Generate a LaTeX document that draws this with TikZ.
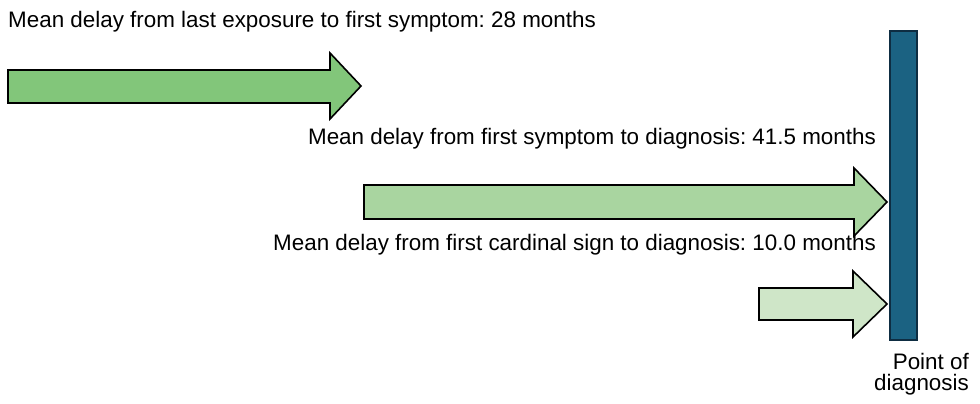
\documentclass[tikz,border=0pt]{standalone}
\usepackage{fontspec}
\setmainfont{Liberation Sans}
\frenchspacing
\begin{document}
\begin{tikzpicture}[x=1pt,y=-1pt,
  lbl/.style={font=\fontsize{22.4}{21}\selectfont, inner sep=0pt},
  arr/.style={draw=black, line width=1.6pt, line join=miter}]
\definecolor{gA}{RGB}{130,198,122}
\definecolor{gB}{RGB}{169,213,160}
\definecolor{gC}{RGB}{207,230,200}
\definecolor{barC}{RGB}{27,98,130}
\definecolor{barD}{RGB}{14,45,66}
\useasboundingbox (0,0) rectangle (980,404);
% bar
\node[draw=barD, line width=1.6pt, fill=barC, minimum width=27pt, minimum height=309pt, inner sep=0pt, anchor=north west] (bar) at (889,30) {};
% arrows
\fill[gA, arr] (8,70) -- (330,70) -- (330,53) -- (361,86) -- (330,119) -- (330,103) -- (8,103) -- cycle;
\fill[gB, arr] (364,185) -- (854,185) -- (854,168) -- (887,202) -- (854,236) -- (854,219) -- (364,219) -- cycle;
\fill[gC, arr] (759,288) -- (853,288) -- (853,271) -- (887,304) -- (853,337) -- (853,320) -- (759,320) -- cycle;
% labels
\node[lbl, anchor=base west] (t1) at (8,28) {Mean delay from last exposure to first symptom: 28 months};
\node[lbl, anchor=base east] (t2) at (876,144) {Mean delay from first symptom to diagnosis: 41.5 months};
\node[lbl, anchor=base east] (t3) at (876,250) {Mean delay from first cardinal sign to diagnosis: 10.0 months};
\node[lbl, anchor=base east, align=right] (t4) at (969,390) {Point of\\diagnosis};
\end{tikzpicture}
\end{document}
